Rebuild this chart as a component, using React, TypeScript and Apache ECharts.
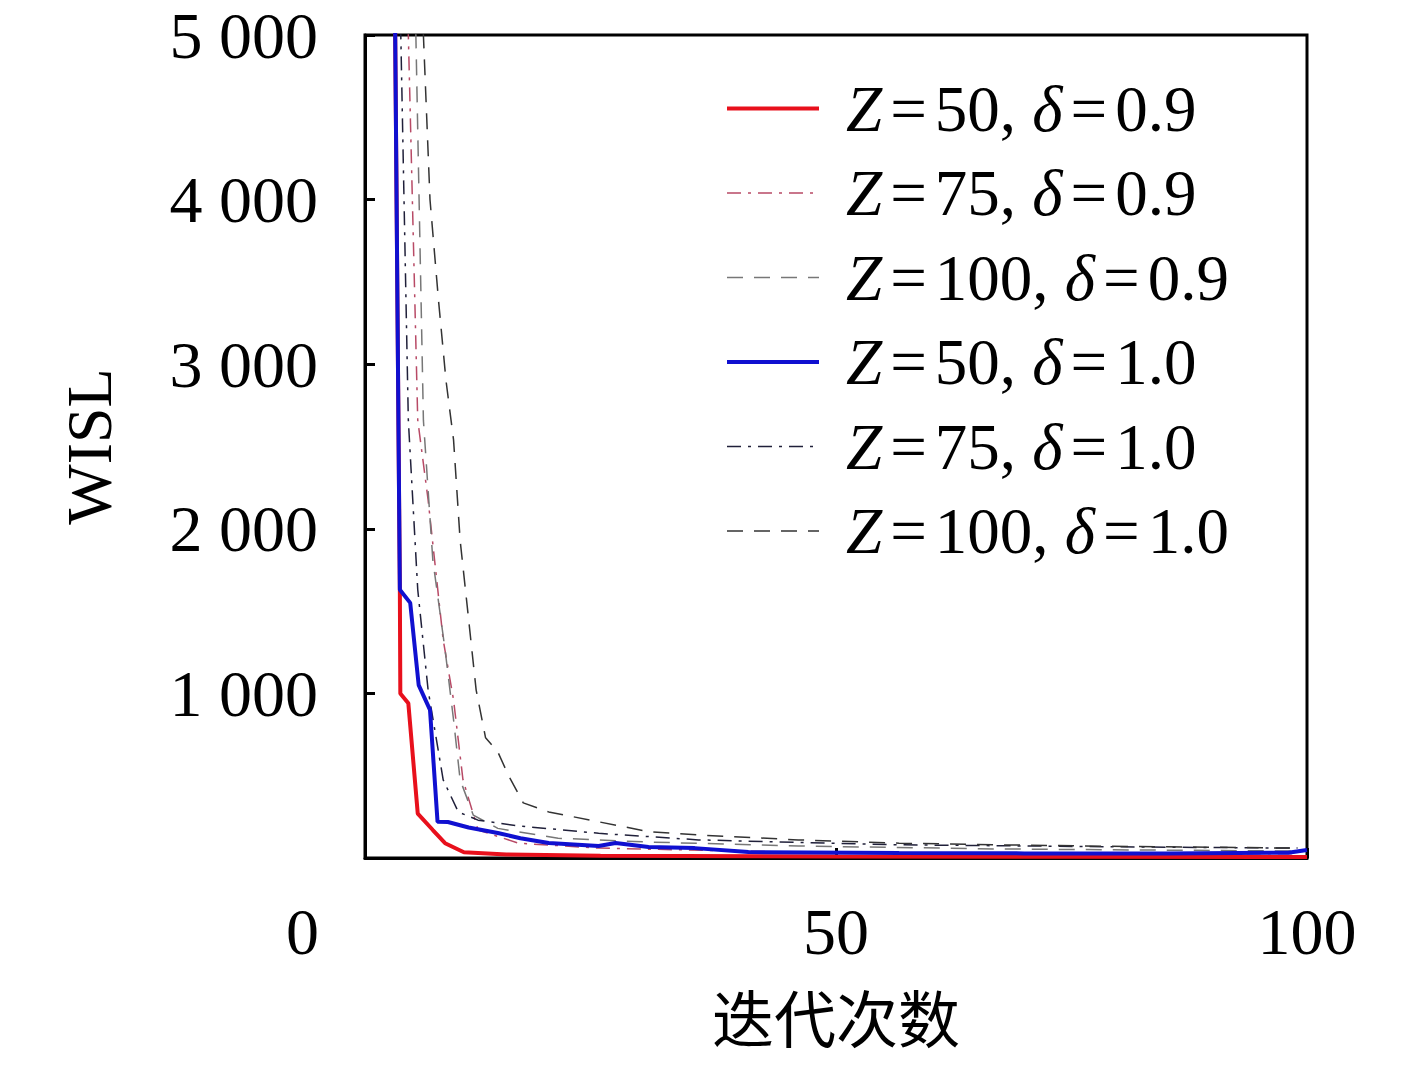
import React, { useEffect, useRef } from "react";
import * as echarts from "echarts";

const seriesNames = [
  "Z=50, δ=0.9",
  "Z=75, δ=0.9",
  "Z=100, δ=0.9",
  "Z=50, δ=1.0",
  "Z=75, δ=1.0",
  "Z=100, δ=1.0",
];

// [iteration, WISL]
const z50d09: [number, number][] = [
  [3.0, 6400], [3.7, 1630], [3.75, 1000], [4.6, 940], [5.6, 270], [7.2, 170],
  [8.5, 90], [10.5, 35], [15, 22], [25, 14], [50, 9], [75, 7], [100, 6],
];
const z75d09: [number, number][] = [
  [4.4, 6000], [4.6, 5000], [5.6, 2660], [6.7, 2175], [8.3, 1325], [9.4, 960],
  [10.4, 475], [12, 170], [16.3, 90], [24.8, 60], [46, 35], [70, 28], [99, 25],
];
const z100d09: [number, number][] = [
  [5.2, 6000], [5.4, 5000], [6.2, 2660], [7.2, 1810], [8.5, 1265], [9.4, 840],
  [10.1, 475], [11.5, 260], [14.1, 180], [20.5, 120], [30.1, 97], [46, 73],
  [67, 55], [99, 42],
];
const z50d10: [number, number][] = [
  [3.0, 6400], [3.7, 1630], [4.8, 1550], [5.7, 1050], [6.9, 900], [7.7, 220],
  [8.8, 219], [11, 185], [14.1, 152], [16.5, 120], [19.5, 91], [24.8, 73],
  [26.6, 91], [30.1, 67], [35, 60], [40.7, 36], [56.7, 30], [70, 28],
  [85, 27], [98, 32], [100, 48],
];
const z75d10: [number, number][] = [
  [3.6, 6000], [3.8, 5000], [4.6, 2660], [5.6, 1630], [6.7, 1020], [8.3, 475],
  [9.9, 280], [12, 230], [16.3, 195], [24.8, 150], [35.4, 110], [56.7, 80],
  [80, 68], [99, 60],
];
const z100d10: [number, number][] = [
  [5.9, 6000], [6.2, 5000], [6.9, 4000], [7.8, 3390], [8.6, 2900], [9.4, 2540],
  [10.1, 1930], [11, 1450], [11.8, 1020], [12.8, 730], [14.1, 645], [15.2, 505],
  [16.8, 335], [19.5, 280], [24.8, 220], [30.1, 160], [35.4, 140], [46, 110],
  [56.7, 90], [67.3, 80], [78, 72], [99, 60],
];

const seriesData = [z50d09, z75d09, z100d09, z50d10, z75d10, z100d10];
const seriesColors = ["#e8101c", "#b84a66", "#777777", "#1010d0", "#20203a", "#333333"];
const seriesWidths = [4, 1.5, 1.5, 4, 1.5, 1.5];
const seriesDash: any[] = ["solid", [14, 7, 3, 7], [16, 11], "solid", [14, 7, 3, 7], [16, 11]];

const xTicks = [0, 50, 100];
const yTicks = [0, 1000, 2000, 3000, 4000, 5000];

const serif = "'Liberation Serif', 'DejaVu Serif', serif";

function legendLabel(name: string): string {
  const m = name.match(/^Z=(\d+), δ=([\d.]+)$/);
  if (!m) return name;
  return `{i|Z}{eq|=}${m[1]}, {i|δ}{eq|=}${m[2]}`;
}

export default function App() {
  const ref = useRef<HTMLDivElement>(null);
  useEffect(() => {
    if (!ref.current) return;
    const chart = echarts.init(ref.current, undefined, { renderer: "svg" });
    const option: any = {
      animation: false,
      backgroundColor: "#ffffff",
      grid: {
        left: 365,
        right: 110,
        top: 35,
        bottom: 209,
        show: true,
        borderColor: "#000",
        borderWidth: 3,
        containLabel: false,
      },
      legend: {
        data: seriesNames.map((name, i) => ({
          name,
          itemStyle: { opacity: 0 },
          lineStyle: { width: seriesWidths[i], color: seriesColors[i], type: seriesDash[i] },
        })),
        orient: "vertical",
        left: 720,
        top: 71,
        itemWidth: 92,
        itemHeight: 20,
        itemGap: 19.5,
        itemStyle: { opacity: 0 },
        formatter: (n: string) => legendLabel(n),
        textStyle: {
          fontFamily: serif,
          fontSize: 65,
          color: "#000",
          lineHeight: 62,
          padding: [0, 0, 0, 22],
          rich: {
            i: { fontFamily: serif, fontSize: 65, fontStyle: "italic", color: "#000", lineHeight: 62 },
            eq: { fontFamily: serif, fontSize: 65, color: "#000", lineHeight: 62, padding: [0, 8, 0, 8] },
          },
        },
      },
      xAxis: {
        type: "value",
        min: 0,
        max: 100,
        interval: 50,
        name: "迭代次数",
        nameLocation: "middle",
        nameGap: 127,
        nameTextStyle: { fontFamily: "'Noto Sans CJK SC', sans-serif", fontSize: 62, color: "#000", lineHeight: 62 },
        axisLine: { show: true, lineStyle: { color: "#000", width: 3 } },
        axisTick: { show: true, inside: true, length: 10, lineStyle: { color: "#000", width: 3 } },
        axisLabel: {
          margin: 40,
          fontFamily: serif,
          fontSize: 66,
          color: "#000",
          formatter: (v: number) => (xTicks.includes(v) && v !== 0 ? String(v) : ""),
        },
        splitLine: { show: false },
      },
      yAxis: {
        type: "value",
        min: 0,
        max: 5000,
        interval: 1000,
        name: "WISL",
        nameLocation: "middle",
        nameGap: 244,
        nameRotate: 90,
        nameTextStyle: { fontFamily: serif, fontSize: 64, color: "#000" },
        axisLine: { show: true, lineStyle: { color: "#000", width: 3 } },
        axisTick: { show: true, inside: true, length: 10, lineStyle: { color: "#000", width: 3 } },
        axisLabel: {
          margin: 47,
          fontFamily: serif,
          fontSize: 66,
          color: "#000",
          formatter: (v: number) =>
            yTicks.includes(v) && v !== 0 ? `${v / 1000} 000` : "",
        },
        splitLine: { show: false },
      },
      graphic: [
        {
          type: "text",
          left: 286,
          top: 898,
          style: { text: "0", fontFamily: serif, fontSize: 66, fill: "#000" },
        },
      ],
      series: seriesNames.map((name, i) => ({
        name,
        type: "line",
        data: seriesData[i],
        symbol: "none",
        clip: true,
        z: i === 3 ? 5 : i === 0 ? 4 : 3,
        lineStyle: { color: seriesColors[i], width: seriesWidths[i], type: seriesDash[i] },
        itemStyle: { color: seriesColors[i] },
      })),
    };
    chart.setOption(option);
    return () => chart.dispose();
  }, []);
  return (
    <div
      ref={ref}
      style={{ position: "absolute", left: 0, top: 0, width: 1417, height: 1067 }}
    />
  );
}
